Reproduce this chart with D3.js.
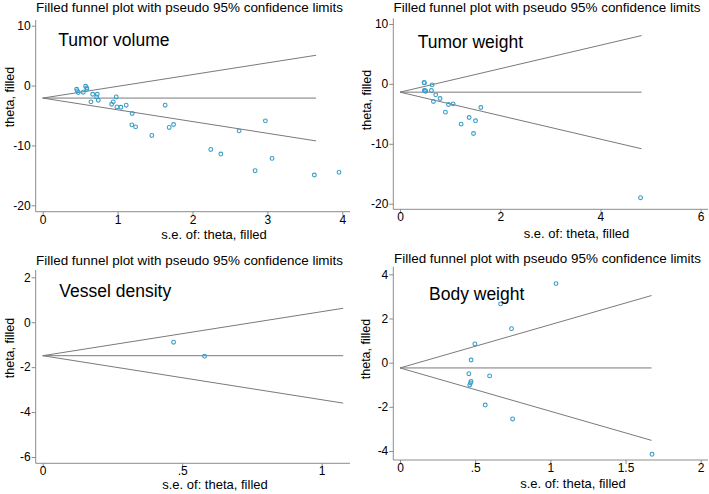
<!DOCTYPE html>
<html>
<head>
<meta charset="utf-8">
<script src="https://cdn.jsdelivr.net/npm/d3@7"></script>
<style>
  html, body { margin: 0; padding: 0; background: #fff; }
  svg { display: block; }
  text { font-family: "Liberation Sans", Arial, Helvetica, sans-serif; fill: #000; }
</style>
</head>
<body>
<svg id="chart" width="709" height="494"></svg>
<script>
// ---------------- DATA ----------------
const chartTitle = "Filled funnel plot with pseudo 95% confidence limits";
const xAxisTitle = "s.e. of: theta, filled";
const yAxisTitle = "theta, filled";

// Tumor volume
const tumorVolumeSE = [0.453, 0.462, 0.475, 0.542, 0.573, 0.587, 0.59, 0.644, 0.667, 0.72, 0.728, 0.742,
  0.92, 0.942, 0.982, 0.991, 1.044, 1.115, 1.195, 1.19, 1.24, 1.457, 1.635, 1.689, 1.747,
  2.244, 2.378, 2.622, 2.836, 2.973, 3.062, 3.627, 3.956];
const tumorVolumeTheta = [-0.62, -0.90, -1.17, -1.11, -0.11, -0.39, -0.62, -2.72, -1.45, -1.90, -1.45, -2.45,
  -3.12, -2.72, -1.90, -3.56, -3.62, -3.28, -4.67, -6.56, -6.90, -8.33, -3.28, -7.00, -6.50,
  -10.67, -11.44, -7.56, -14.22, -5.89, -12.17, -14.94, -14.50];
const tumorVolumePooled = -2.09;
const tumorVolumeMaxSE = 3.65;
const tumorVolumeXTicks = [0, 1, 2, 3, 4];
const tumorVolumeXLabels = ["0", "1", "2", "3", "4"];
const tumorVolumeYTicks = [-20, -10, 0, 10];
const tumorVolumeYLabels = ["-20", "-10", "0", "10"];

// Tumor weight
const tumorWeightSE = [0.487, 0.48, 0.64, 0.627, 0.487, 0.513, 0.50, 0.713, 0.8, 0.667, 0.967, 1.06,
  0.907, 1.613, 1.38, 1.507, 1.22, 1.467, 4.80];
const tumorWeightTheta = [0.17, 0.25, -0.17, -1.10, -1.10, -1.22, -1.15, -1.83, -2.44, -2.94, -3.44, -3.33,
  -4.72, -3.94, -5.61, -6.16, -6.72, -8.28, -19.0];
const tumorWeightPooled = -1.38;
const tumorWeightMaxSE = 4.82;
const tumorWeightXTicks = [0, 2, 4, 6];
const tumorWeightXLabels = ["0", "2", "4", "6"];
const tumorWeightYTicks = [-20, -10, 0, 10];
const tumorWeightYLabels = ["-20", "-10", "0", "10"];

// Vessel density
const vesselDensitySE = [0.469, 0.58];
const vesselDensityTheta = [-0.89, -1.51];
const vesselDensityPooled = -1.49;
const vesselDensityMaxSE = 1.077;
const vesselDensityXTicks = [0, 0.5, 1];
const vesselDensityXLabels = ["0", ".5", "1"];
const vesselDensityYTicks = [-6, -4, -2, 0, 2];
const vesselDensityYLabels = ["-6", "-4", "-2", "0", "2"];

// Body weight
const bodyWeightSE = [1.038, 0.669, 0.742, 0.498, 0.473, 0.458, 0.473, 0.469, 0.464, 0.596, 0.567, 0.749, 1.676];
const bodyWeightTheta = [3.58, 2.66, 1.54, 0.85, 0.12, -0.50, -0.85, -0.92, -1.01, -0.60, -1.92, -2.55, -4.15];
const bodyWeightPooled = -0.24;
const bodyWeightMaxSE = 1.673;
const bodyWeightXTicks = [0, 0.5, 1, 1.5, 2];
const bodyWeightXLabels = ["0", ".5", "1", "1.5", "2"];
const bodyWeightYTicks = [-4, -2, 0, 2, 4];
const bodyWeightYLabels = ["-4", "-2", "0", "2", "4"];

const panelNames = ["Tumor volume", "Tumor weight", "Vessel density", "Body weight"];

// ---------------- LAYOUT ----------------
const layouts = [
  { // Tumor volume
    xDom: [0, 4], xRange: [42.7, 342.3], yDom: [-20, 10], yRange: [205.3, 25.7],
    axisX: 35.7, axisXEnd: 350, axisY: 211.7, axisYTop: 20,
    titleX: 189.5, titleY: 12, labelX: 58.3, labelY: 45.7,
    xtX: 214, xtY: 238.5, ytX: 13.5, ytY: 97
  },
  { // Tumor weight
    xDom: [0, 6], xRange: [400, 700.7], yDom: [-20, 10], yRange: [203.7, 24],
    axisX: 393.3, axisXEnd: 708, axisY: 209.3, axisYTop: 18.3,
    titleX: 547, titleY: 12, labelX: 417.7, labelY: 48,
    xtX: 576.5, xtY: 237.5, ytX: 370.5, ytY: 100
  },
  { // Vessel density
    xDom: [0, 1], xRange: [42.7, 321.7], yDom: [-6, 2], yRange: [457, 277.3],
    axisX: 35.7, axisXEnd: 350, axisY: 463.3, axisYTop: 270,
    titleX: 189.5, titleY: 264.5, labelX: 59.3, labelY: 296.7,
    xtX: 215, xtY: 489, ytX: 13.5, ytY: 348
  },
  { // Body weight
    xDom: [0, 2], xRange: [400, 700.7], yDom: [-4, 4], yRange: [451, 274.3],
    axisX: 393.3, axisXEnd: 708, axisY: 460, axisYTop: 266.7,
    titleX: 547.5, titleY: 263, labelX: 429, labelY: 300,
    xtX: 573, xtY: 487.5, ytX: 369.5, ytY: 349
  }
];

const panelData = [
  { se: tumorVolumeSE, theta: tumorVolumeTheta, pooled: tumorVolumePooled, maxSE: tumorVolumeMaxSE,
    xt: tumorVolumeXTicks, xl: tumorVolumeXLabels, yt: tumorVolumeYTicks, yl: tumorVolumeYLabels },
  { se: tumorWeightSE, theta: tumorWeightTheta, pooled: tumorWeightPooled, maxSE: tumorWeightMaxSE,
    xt: tumorWeightXTicks, xl: tumorWeightXLabels, yt: tumorWeightYTicks, yl: tumorWeightYLabels },
  { se: vesselDensitySE, theta: vesselDensityTheta, pooled: vesselDensityPooled, maxSE: vesselDensityMaxSE,
    xt: vesselDensityXTicks, xl: vesselDensityXLabels, yt: vesselDensityYTicks, yl: vesselDensityYLabels },
  { se: bodyWeightSE, theta: bodyWeightTheta, pooled: bodyWeightPooled, maxSE: bodyWeightMaxSE,
    xt: bodyWeightXTicks, xl: bodyWeightXLabels, yt: bodyWeightYTicks, yl: bodyWeightYLabels }
];

const axisColor = "#8c8c8c";
const lineColor = "#7a7a7a";
const markerColor = "#3a9dc9";

const svg = d3.select("#chart");

panelData.forEach((pd, i) => {
  const L = layouts[i];
  const g = svg.append("g");
  const x = d3.scaleLinear().domain(L.xDom).range(L.xRange);
  const y = d3.scaleLinear().domain(L.yDom).range(L.yRange);

  // Title
  const t = g.append("text").attr("x", L.titleX).attr("y", L.titleY)
    .attr("text-anchor", "middle").style("font-size", "13.4px").text(chartTitle);
  const tw = t.node().getComputedTextLength();
  t.style("font-size", (13.4 * 307 / tw) + "px");

  // Axis lines
  g.append("line").attr("x1", L.axisX).attr("x2", L.axisX).attr("y1", L.axisYTop).attr("y2", L.axisY)
    .attr("stroke", axisColor).attr("stroke-width", 1);
  g.append("line").attr("x1", L.axisX).attr("x2", L.axisXEnd).attr("y1", L.axisY).attr("y2", L.axisY)
    .attr("stroke", axisColor).attr("stroke-width", 1);

  // X axis ticks
  const xAxis = d3.axisBottom(x).tickValues(pd.xt).tickSize(4).tickPadding(-0.5)
    .tickFormat((d, k) => pd.xl[k]);
  const gx = g.append("g").attr("transform", `translate(0,${L.axisY})`).call(xAxis);
  gx.select(".domain").remove();
  gx.selectAll(".tick line").attr("stroke", axisColor);
  gx.selectAll(".tick text").style("font-size", "12px")
    .style("font-family", '"Liberation Sans", Arial, sans-serif').attr("fill", "#000");

  // Y axis ticks
  const yAxis = d3.axisLeft(y).tickValues(pd.yt).tickSize(4).tickPadding(1)
    .tickFormat((d, k) => pd.yl[k]);
  const gy = g.append("g").attr("transform", `translate(${L.axisX},0)`).call(yAxis);
  gy.select(".domain").remove();
  gy.selectAll(".tick line").attr("stroke", axisColor);
  gy.selectAll(".tick text").style("font-size", "12px")
    .style("font-family", '"Liberation Sans", Arial, sans-serif').attr("fill", "#000");

  // Axis titles
  g.append("text").attr("x", L.xtX).attr("y", L.xtY).attr("text-anchor", "middle")
    .style("font-size", "13px").text(xAxisTitle);
  g.append("text").attr("transform", `translate(${L.ytX},${L.ytY}) rotate(-90)`)
    .attr("text-anchor", "middle").style("font-size", "12.5px").text(yAxisTitle);

  // Funnel lines
  const m = pd.maxSE, c = pd.pooled;
  const funnel = [
    [[0, c], [m, c + 1.96 * m]],
    [[0, c], [m, c]],
    [[0, c], [m, c - 1.96 * m]]
  ];
  const lineGen = d3.line().x(d => x(d[0])).y(d => y(d[1]));
  g.selectAll("path.funnel").data(funnel).enter().append("path")
    .attr("class", "funnel").attr("d", lineGen)
    .attr("fill", "none").attr("stroke", lineColor).attr("stroke-width", 1);

  // Points
  const pts = pd.se.map((s, k) => ({ s, t: pd.theta[k] }));
  g.selectAll("circle").data(pts).enter().append("circle")
    .attr("cx", d => x(d.s)).attr("cy", d => y(d.t)).attr("r", 1.9)
    .attr("fill", "none").attr("stroke", markerColor).attr("stroke-width", 1.1);

  // Panel label
  g.append("text").attr("x", L.labelX).attr("y", L.labelY)
    .style("font-size", "17.5px").text(panelNames[i]);
});
</script>
</body>
</html>
